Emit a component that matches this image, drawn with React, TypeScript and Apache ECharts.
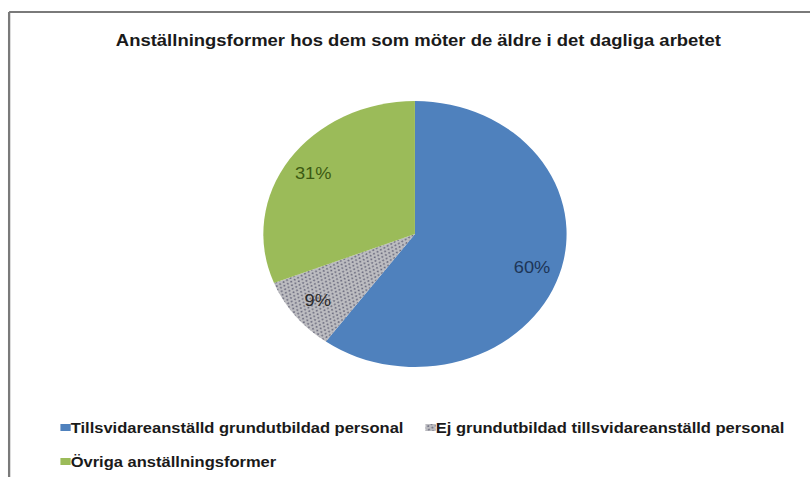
import { useEffect, useRef } from "react";
import * as echarts from "echarts";

const categories = [
  "Tillsvidareanställd grundutbildad personal",
  "Ej grundutbildad tillsvidareanställd personal",
  "Övriga anställningsformer",
];
const values = [60, 9, 31];
const colors = ["#4f81bd", "#bdbdc1", "#9bbb59"];
const labelColors = ["#1d3557", "#2b2b2b", "#3b5a12"];
const titleText = "Anställningsformer hos dem som möter de äldre i det dagliga arbetet";

// the original picture is stretched sideways, so the chart is drawn narrower and widened with CSS
const STRETCH = 1.14;
const BASE_WIDTH = Math.round(810 / STRETCH);

const granite = {
  symbol: "circle",
  symbolSize: 0.9,
  color: "rgba(70,70,95,0.7)",
  dashArrayX: [
    [2, 2],
    [0, 2, 2, 0],
  ],
  dashArrayY: [2, 1],
  rotation: 0.4,
};

function App() {
  const chartRef = useRef(null);

  useEffect(() => {
    const chart = echarts.init(chartRef.current, null, { renderer: "svg" });

    const pieData = categories.map((name, i) => ({
      name,
      value: values[i],
      itemStyle: i === 1 ? { color: colors[i], decal: granite } : { color: colors[i] },
    }));

    chart.setOption({
      animation: false,
      backgroundColor: "#ffffff",
      title: {
        text: titleText,
        left: 362,
        top: 27,
        textAlign: "center",
        textStyle: {
          fontFamily: "Liberation Sans",
          fontSize: 16.2,
          fontWeight: "bold",
          color: "#1a1a1a",
        },
      },
      legend: {
        left: 48,
        right: 10,
        top: 415,
        itemWidth: 9,
        itemHeight: 7,
        itemGap: 19,
        icon: "rect",
        data: categories,
        textStyle: {
          fontFamily: "Liberation Sans",
          fontSize: 14.5,
          fontWeight: "bold",
          color: "#1a1a1a",
          padding: [0, 0, 0, -5],
        },
      },
      graphic: [
        {
          type: "line",
          shape: { x1: 8, y1: 12, x2: BASE_WIDTH, y2: 12 },
          style: { stroke: "#7a7a7a", lineWidth: 2 },
        },
        {
          type: "line",
          shape: { x1: 8, y1: 12, x2: 8, y2: 477 },
          style: { stroke: "#7a7a7a", lineWidth: 2 },
        },
      ],
      series: [
        {
          name: "main",
          type: "pie",
          center: [364, 234],
          radius: [0, 133],
          startAngle: 90,
          clockwise: true,
          label: { show: false },
          labelLine: { show: false },
          emphasis: { disabled: true },
          data: pieData,
        },
        {
          name: "labels",
          type: "pie",
          center: [364, 234],
          radius: [77, 133],
          startAngle: 90,
          clockwise: true,
          silent: true,
          itemStyle: { color: "transparent" },
          emphasis: { disabled: true },
          labelLine: { show: false },
          label: {
            show: true,
            position: "inside",
            formatter: "{d}%",
            fontFamily: "Liberation Sans",
            fontSize: 16,
          },
          data: categories.map((name, i) => ({
            name,
            value: values[i],
            label: { color: labelColors[i] },
          })),
        },
      ],
    });

    return () => {
      chart.dispose();
    };
  }, []);

  return (
    <div
      ref={chartRef}
      style={{
        position: "absolute",
        left: 0,
        top: 0,
        width: BASE_WIDTH + "px",
        height: "477px",
        transform: `scaleX(${STRETCH})`,
        transformOrigin: "0 0",
      }}
    ></div>
  );
}

export default App;
